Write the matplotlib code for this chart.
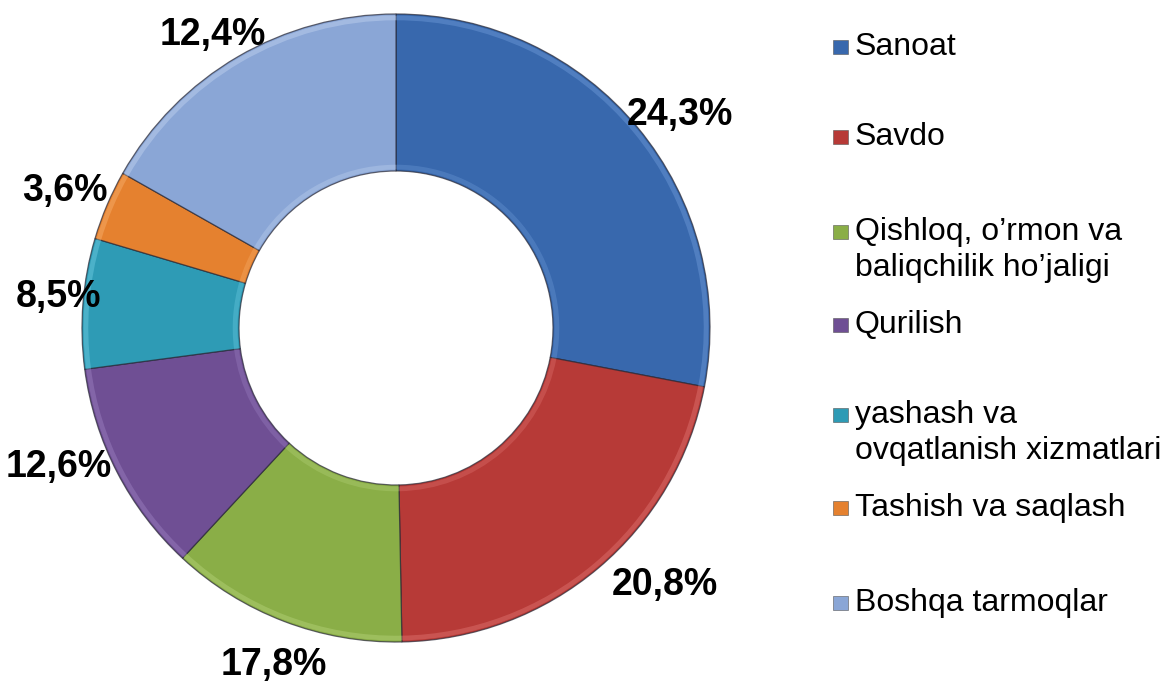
import matplotlib
matplotlib.use("Agg")
import matplotlib.pyplot as plt
import numpy as np
from matplotlib.patches import Wedge, Rectangle

plt.rcParams['font.family'] = ['Liberation Sans', 'DejaVu Sans']

# ---- data ----
categories = ['Sanoat', 'Savdo', 'Qishloq, o’rmon va\nbaliqchilik ho’jaligi', 'Qurilish',
              'yashash va\novqatlanish xizmatlari', 'Tashish va saqlash', 'Boshqa tarmoqlar']
# slice sizes as drawn in the picture
shares = [28.0, 21.7, 12.2, 11.0, 6.7, 3.6, 16.8]
# printed labels
label_text = ['24,3%', '20,8%', '17,8%', '12,6%', '8,5%', '3,6%', '12,4%']

colors = ['#3868AD', '#B73A37', '#8AAE47', '#6F4F94', '#2E9BB5', '#E5812F', '#8AA6D6']
edge_hi = ['#6E9BD8', '#E07572', '#B5D27A', '#9C80C2', '#6FCDE3', '#F8B06E', '#C2D4F0']

W, H = 1165, 684
fig = plt.figure(figsize=(W / 100, H / 100), dpi=100)
ax = fig.add_axes([0, 0, 1, 1])
cx, cy, R = 396, 684 - 328, 314

width = 0.5
wedges, _ = ax.pie(shares, colors=colors, startangle=90, counterclock=False, radius=1.0,
                   wedgeprops=dict(width=width, edgecolor=(0.15, 0.15, 0.2, 0.7), linewidth=0.9))
ax.set_xlim(-cx / R, (W - cx) / R)
ax.set_ylim(-cy / R, (H - cy) / R)
ax.set_aspect('auto')
ax.axis('off')

# bevel-like highlights
for w, hc in zip(wedges, edge_hi):
    t1, t2 = w.theta1, w.theta2
    ax.add_patch(Wedge((0, 0), 0.995, t1, t2, width=0.015, facecolor=hc, alpha=0.45, lw=0))
    ax.add_patch(Wedge((0, 0), 1.0 - width + 0.02, t1, t2, width=0.015, facecolor=hc, alpha=0.35, lw=0))

# label layout: (radius factor, angle offset)
lab_r = [1.13, 1.185, 1.14, 1.16, 1.08, 1.14, 1.10]
lab_dt = [-2.7, 6.1, 1.0, -5.0, -0.8, 0.6, 1.8]
for w, txt, rr, dt in zip(wedges, label_text, lab_r, lab_dt):
    mid = np.deg2rad((w.theta1 + w.theta2) / 2 + dt)
    ax.text(rr * np.cos(mid), rr * np.sin(mid), txt, ha='center', va='center',
            fontsize=27, fontweight='bold', color='#000000')

# legend (manual)
leg_y = [47, 137, 232, 325, 415, 508, 603]
line_h = 36
for cat, col, y in zip(categories, colors, leg_y):
    fig.patches.append(Rectangle(((833) / W, 1 - (y + 7) / H), 15 / W, 14 / H,
                                 transform=fig.transFigure, facecolor=col,
                                 edgecolor='#555555', linewidth=0.4))
    for i, line in enumerate(cat.split('\n')):
        fig.text(855 / W, 1 - (y + i * line_h) / H, line, ha='left', va='center',
                 fontsize=23, color='#000000')

fig.savefig('out.png', dpi=100)
